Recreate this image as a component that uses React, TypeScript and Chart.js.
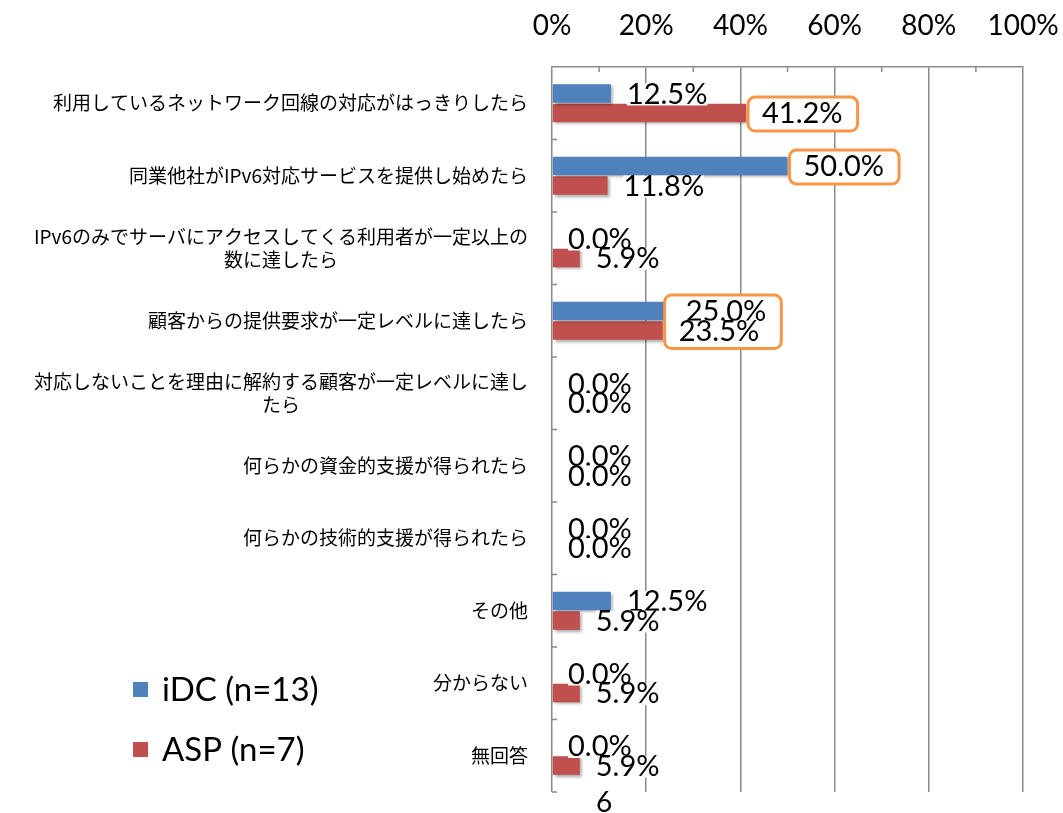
import React, { useEffect, useRef } from "react";
import { Chart, registerables } from "chart.js";

Chart.register(...registerables);

const categories: string[][] = [
  ["利用しているネットワーク回線の対応がはっきりしたら"],
  ["同業他社がIPv6対応サービスを提供し始めたら"],
  ["IPv6のみでサーバにアクセスしてくる利用者が一定以上の", "数に達したら"],
  ["顧客からの提供要求が一定レベルに達したら"],
  ["対応しないことを理由に解約する顧客が一定レベルに達し", "たら"],
  ["何らかの資金的支援が得られたら"],
  ["何らかの技術的支援が得られたら"],
  ["その他"],
  ["分からない"],
  ["無回答"],
];
const idcValues = [12.5, 50.0, 0.0, 25.0, 0.0, 0.0, 0.0, 12.5, 0.0, 0.0];
const aspValues = [41.2, 11.8, 5.9, 23.5, 0.0, 0.0, 0.0, 5.9, 5.9, 5.9];
const seriesNames = ["iDC (n=13)", "ASP (n=7)"];
const seriesColors = ["#4F81BD", "#C0504D"];
const xTicks = [0, 20, 40, 60, 80, 100];
const xMinorTicks = [10, 30, 50, 70, 90];
// highlighted data labels: [categoryIndex, ...datasetIndices]
const highlights: number[][] = [
  [0, 1],
  [1, 0],
  [3, 0, 1],
];
const pageNumber = "6";

const LATIN = "Lato, 'Open Sans', sans-serif";
const CJK = "'Noto Sans CJK JP', sans-serif";
const GRID = "#8a8a8a";

const customPlugin = {
  id: "custom",
  beforeDatasetDraw(chart: any) {
    const ctx = chart.ctx;
    ctx.save();
    ctx.shadowColor = "rgba(0,0,0,0.35)";
    ctx.shadowOffsetX = 2;
    ctx.shadowOffsetY = 2;
    ctx.shadowBlur = 3;
  },
  afterDatasetDraw(chart: any) {
    chart.ctx.restore();
  },
  afterDraw(chart: any) {
    const ctx: CanvasRenderingContext2D = chart.ctx;
    const area = chart.chartArea;
    const xs = chart.scales.x;
    const ys = chart.scales.y;
    const band = (area.bottom - area.top) / categories.length;
    ctx.save();

    // minor ticks on top axis
    ctx.strokeStyle = GRID;
    ctx.lineWidth = 1.5;
    xMinorTicks.forEach((v) => {
      const x = xs.getPixelForValue(v);
      ctx.beginPath();
      ctx.moveTo(x, area.top);
      ctx.lineTo(x, area.top + 5);
      ctx.stroke();
    });
    // category ticks on left axis
    for (let i = 0; i < categories.length; i++) {
      const y = ys.getPixelForValue(i) + band / 2;
      ctx.beginPath();
      ctx.moveTo(area.left, y);
      ctx.lineTo(area.left + 5, y);
      ctx.stroke();
    }

    // x tick labels
    ctx.fillStyle = "#000";
    ctx.font = `28px ${LATIN}`;
    ctx.textAlign = "center";
    ctx.textBaseline = "middle";
    xTicks.forEach((v) => {
      ctx.fillText(`${v}%`, xs.getPixelForValue(v), 26);
    });

    // category labels
    ctx.font = `19px ${CJK}`;
    categories.forEach((lines, i) => {
      const yc = ys.getPixelForValue(i);
      const maxW = Math.max(...lines.map((l) => ctx.measureText(l).width));
      const right = area.left - 24;
      lines.forEach((l, j) => {
        const y = yc + (j - (lines.length - 1) / 2) * 23;
        ctx.fillText(l, right - maxW / 2, y);
      });
    });

    // data labels
    ctx.font = `29px ${LATIN}`;
    ctx.textAlign = "left";
    const labelPos = (d: number, i: number) => {
      const el = chart.getDatasetMeta(d).data[i];
      const val = chart.data.datasets[d].data[i] as number;
      const text = `${val.toFixed(1)}%`;
      const w = ctx.measureText(text).width;
      return { x: el.x + 16, y: el.y + 1, w, text };
    };

    // highlight boxes
    highlights.forEach(([i, ...ds]) => {
      const ps = ds.map((d) => labelPos(d, i));
      const x0 = Math.min(...ps.map((p) => p.x)) - 14;
      const x1 = Math.max(...ps.map((p) => p.x + p.w)) + 15;
      const y0 = Math.min(...ps.map((p) => p.y)) - 17;
      const y1 = Math.max(...ps.map((p) => p.y)) + 17;
      ctx.beginPath();
      (ctx as any).roundRect(x0, y0, x1 - x0, y1 - y0, 7);
      ctx.fillStyle = "#fff";
      ctx.fill();
      ctx.strokeStyle = "#F79646";
      ctx.lineWidth = 3;
      ctx.stroke();
    });

    for (let i = 0; i < categories.length; i++) {
      for (let d = 0; d < chart.data.datasets.length; d++) {
        const p = labelPos(d, i);
        ctx.fillStyle = "#fff";
        ctx.fillRect(p.x, p.y - 11, p.w, 22);
        ctx.fillStyle = "#000";
        ctx.fillText(p.text, p.x, p.y);
      }
    }

    // legend
    ctx.font = `33px ${LATIN}`;
    chart.data.datasets.forEach((ds: any, d: number) => {
      const y = 690 + d * 60;
      ctx.fillStyle = ds.backgroundColor;
      ctx.fillRect(133, y - 8, 15, 15);
      ctx.fillStyle = "#000";
      ctx.fillText(ds.label, 162, y);
    });

    // page number
    ctx.font = `28px ${LATIN}`;
    ctx.textAlign = "center";
    ctx.fillText(pageNumber, 604, 803);

    ctx.restore();
  },
};

export default function App() {
  const ref = useRef<HTMLCanvasElement | null>(null);
  useEffect(() => {
    if (!ref.current) return;
    const chart = new Chart(ref.current, {
      type: "bar",
      data: {
        labels: categories.map((c) => c.join("")),
        datasets: [
          {
            label: seriesNames[0],
            data: idcValues,
            backgroundColor: seriesColors[0],
            barPercentage: 0.95,
            categoryPercentage: 0.54,
          },
          {
            label: seriesNames[1],
            data: aspValues,
            backgroundColor: seriesColors[1],
            barPercentage: 0.95,
            categoryPercentage: 0.54,
          },
        ],
      },
      options: {
        indexAxis: "y",
        responsive: false,
        animation: false,
        devicePixelRatio: 1,
        layout: { padding: { left: 552, right: 40, top: 67, bottom: 21 } },
        plugins: { legend: { display: false }, tooltip: { enabled: false } },
        scales: {
          x: {
            position: "top",
            min: 0,
            max: 100,
            ticks: { display: false, stepSize: 20 },
            grid: { color: GRID, lineWidth: 1.5, drawTicks: false },
            border: { display: true, color: GRID, width: 1.5 },
            afterFit: (s: any) => {
              s.height = 0;
            },
          },
          y: { display: false },
        },
      } as any,
      plugins: [customPlugin],
    });
    return () => chart.destroy();
  }, []);
  return (
    <canvas
      ref={ref}
      width={1063}
      height={813}
      style={{ position: "absolute", left: 0, top: 0, width: 1063, height: 813 }}
    />
  );
}
